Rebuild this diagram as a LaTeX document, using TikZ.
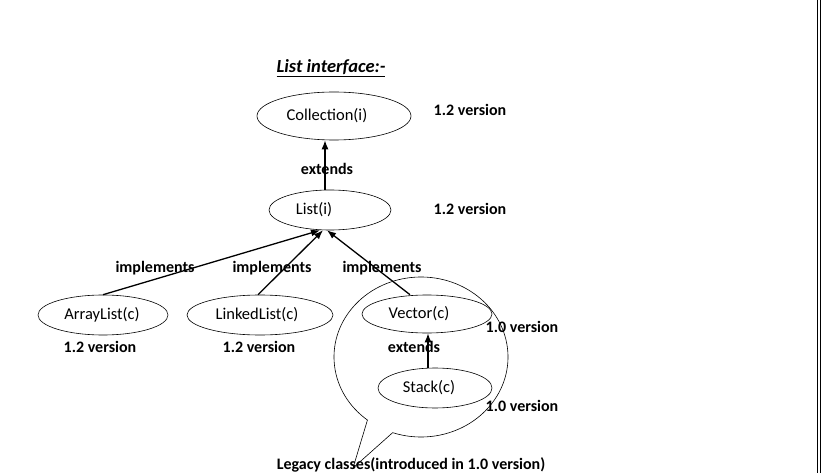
\documentclass[tikz,border=0pt]{standalone}
\usepackage{fontspec}
\setmainfont{Carlito}
\usetikzlibrary{arrows.meta,shapes.geometric}

\begin{document}
\begin{tikzpicture}[x=1pt,y=-1pt]
\tikzset{cls/.style={draw,ellipse,inner sep=0pt,line width=0.6pt},
txt/.style={inner sep=0pt,font=\fontsize{16.5}{19}\selectfont},
lbl/.style={inner sep=0pt,font=\fontsize{16}{19}\selectfont\bfseries},
arr/.style={line width=1.3pt,-{Latex[length=9pt,width=7pt]}}}
\useasboundingbox (0,0) rectangle (822,473);
\node[inner sep=0pt,font=\fontsize{18.5}{21}\selectfont\bfseries\itshape] (title) at (331,68) {\underline{List interface:-}};
\node[cls,minimum width=154pt,minimum height=48pt,label={[txt,xshift=-7pt]center:Collection(i)}] (coll) at (334,116) {};
\node[cls,minimum width=122pt,minimum height=40pt,label={[txt,xshift=-16pt]center:List(i)}] (lst) at (330,210) {};
\node[cls,minimum width=130pt,minimum height=40pt,label={[txt,xshift=-1pt]center:ArrayList(c)}] (arl) at (103,315) {};
\node[cls,minimum width=146pt,minimum height=40pt,label={[txt,xshift=-3pt]center:LinkedList(c)}] (lnk) at (260,315) {};
\node[cls,minimum width=130pt,minimum height=38pt,label={[txt,xshift=-8pt]center:Vector(c)}] (vec) at (427,314) {};
\node[cls,minimum width=114pt,minimum height=40pt,label={[txt,xshift=-6pt]center:Stack(c)}] (stk) at (435,388) {};
\node[lbl] (vcoll) at (470,110) {1.2 version};
\node[lbl] (vlst) at (470,209) {1.2 version};
\node[lbl] (varl) at (100,347) {1.2 version};
\node[lbl] (vlnk) at (259,347) {1.2 version};
\node[lbl] (vvec) at (522,327) {1.0 version};
\node[lbl] (vstk) at (522,406) {1.0 version};
\node[lbl] (ext1) at (327,169) {extends};
\node[lbl] (ext2) at (414,347) {extends};
\node[lbl] (imp1) at (155,268) {implements};
\node[lbl] (imp2) at (272,268) {implements};
\node[lbl] (imp3) at (382,268) {implements};
\node[lbl] (legacy) at (411,465) {Legacy classes(introduced in 1.0 version)};
\draw[arr] ([xshift=-5pt]lst.north) -- ([xshift=-5pt]lst.north |- coll.south);
\draw[arr] (arl.north) -- ([xshift=-10pt]lst.south);
\draw[arr] ([xshift=-2pt]lnk.north) -- ([xshift=-7pt]lst.south);
\draw[arr] ([xshift=-17pt]vec.north) -- ([xshift=-3pt]lst.south);
\draw[arr] ([xshift=-7pt]stk.north) -- ([xshift=1pt]vec.south);
\coordinate (tip) at (353,468);
\draw[line width=0.6pt] (421,357) ++(128:87 and 80) arc[start angle=128,end angle=469,x radius=87,y radius=80] -- (tip) -- cycle;
\draw[line width=1pt] (817,0) -- (817,473) (820,0) -- (820,473);
\end{tikzpicture}
\end{document}
